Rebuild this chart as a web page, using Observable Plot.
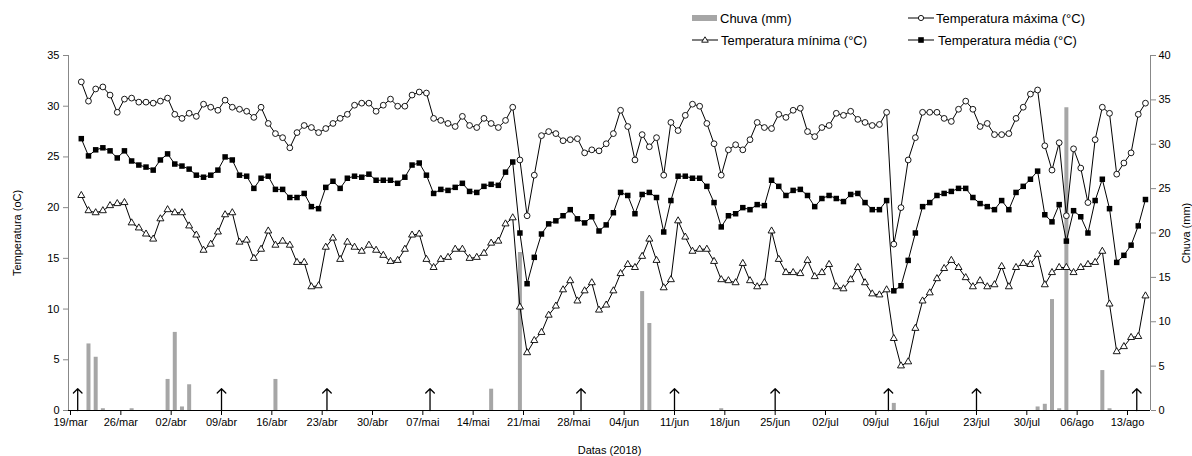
<!DOCTYPE html>
<html><head><meta charset="utf-8">
<script src="https://cdn.jsdelivr.net/npm/d3@7"></script>
<script src="https://cdn.jsdelivr.net/npm/@observablehq/plot@0.6"></script>
<style>
body{margin:0;background:#fff;font-family:"Liberation Sans",Arial,sans-serif;}
#wrap{position:relative;width:1192px;height:456px;overflow:hidden;}
#legend{position:relative;width:1192px;height:46px;font-size:13px;color:#000;}
.item{position:absolute;display:flex;align-items:center;height:16px;white-space:nowrap;}
</style></head><body>
<div id="wrap"><div id="legend"></div><div id="chart"></div></div>
<script>
// ---- data ----
const firstDate = "2018-03-20"; // one value per day from here
const tMax = [32.4,30.5,31.7,31.9,31.1,29.4,30.7,30.8,30.4,30.4,30.3,30.5,30.8,29.2,28.8,
  29.3,29.0,30.2,29.9,29.6,30.6,29.9,29.7,29.5,28.9,29.9,28.3,27.3,26.9,25.9,27.4,28.1,
  27.9,27.4,27.8,28.3,28.8,29.2,30.1,30.3,30.3,29.5,30.1,30.7,30.0,30.0,31.1,31.4,31.3,
  28.8,28.6,28.3,28.0,29.0,28.1,27.9,28.8,28.3,27.9,28.6,29.9,24.7,19.2,23.2,27.1,
  27.5,27.3,26.6,26.7,26.8,25.4,25.7,25.6,26.3,27.3,29.6,28.0,24.7,27.2,26.0,26.9,23.2,
  28.4,27.6,29.1,30.2,30.0,28.3,26.3,23.2,25.7,26.2,25.7,26.7,28.4,27.9,27.8,29.2,28.9,
  29.6,29.8,27.5,27.0,27.9,28.1,29.3,29.1,29.5,28.7,28.4,28.1,28.2,29.4,16.4,20.0,
  24.7,26.9,29.4,29.4,29.4,28.8,28.5,29.7,30.5,29.7,28.0,28.3,27.2,27.2,27.3,28.8,29.9,
  31.2,31.6,26.1,23.7,26.4,19.2,25.8,23.9,20.5,26.7,29.9,29.3,23.3,24.4,25.4,29.2,30.3];
const tMed = [26.8,25.1,25.7,25.9,25.6,24.9,25.6,24.6,24.2,24.0,23.7,24.7,25.3,24.3,24.1,
  23.8,23.2,23.0,23.2,23.7,25.0,24.7,23.2,23.1,21.9,22.9,23.1,21.8,21.8,21.0,21.0,21.4,
  20.1,19.9,22.0,22.6,21.9,22.9,23.1,23.0,23.3,22.7,22.7,22.7,22.4,23.0,24.2,24.4,23.2,
  21.4,21.8,21.7,22.0,22.4,21.6,21.5,22.1,22.3,22.2,23.5,24.5,17.5,12.5,15.1,17.4,
  18.4,18.7,19.2,19.8,18.9,18.5,19.1,17.7,18.3,19.5,21.5,21.2,19.4,21.3,21.5,21.0,17.6,
  20.7,23.1,23.1,22.9,22.9,22.1,20.5,18.1,19.2,19.4,20.0,19.8,20.3,20.2,22.7,22.1,21.2,
  21.7,21.8,21.2,20.1,20.9,21.2,20.9,20.6,21.3,21.4,20.5,19.8,19.8,20.7,11.8,12.3,
  14.8,17.5,20.1,20.5,21.2,21.4,21.6,21.9,21.9,21.0,20.4,20.1,19.8,20.7,19.8,21.5,22.1,
  22.8,23.6,19.3,18.6,20.3,16.7,19.7,19.1,17.5,20.7,22.8,19.9,14.6,15.3,16.3,18.2,20.8];
const tMin = [21.2,19.7,19.5,19.7,20.2,20.4,20.5,18.5,18.0,17.4,16.9,18.9,19.8,19.5,19.5,
  18.2,17.3,15.8,16.4,17.6,19.3,19.5,16.6,16.8,15.0,15.9,17.7,16.3,16.7,16.3,14.6,14.6,
  12.2,12.3,16.1,17.0,14.9,16.6,16.1,15.7,16.3,15.8,15.3,14.7,14.8,15.9,17.3,17.4,14.9,
  14.1,14.9,15.1,15.9,15.9,15.0,15.1,15.5,16.5,16.7,18.4,19.0,10.2,5.7,6.9,7.7,
  9.4,10.3,11.9,12.8,10.8,11.8,12.6,9.9,10.4,11.8,13.5,14.4,14.1,15.2,16.9,14.8,12.1,
  12.9,18.7,17.1,15.7,15.9,15.9,14.7,12.9,12.8,12.6,14.5,12.8,12.2,12.6,17.7,14.9,13.6,
  13.6,13.5,14.8,13.2,13.6,14.4,12.2,12.0,12.9,14.1,12.6,11.5,11.4,11.9,7.1,4.4,
  4.8,8.1,10.8,11.6,13.0,14.0,14.8,14.1,13.1,12.2,12.8,12.2,12.4,14.2,12.2,14.1,14.5,
  14.4,15.4,12.4,13.6,14.1,14.1,13.6,14.1,14.4,14.6,15.7,10.5,5.8,6.3,7.2,7.3,11.3];
const rainDates = ["2018-03-21","2018-03-22","2018-03-23","2018-03-27","2018-04-01","2018-04-02",
  "2018-04-03","2018-04-04","2018-04-16","2018-05-16","2018-05-20","2018-06-06","2018-06-07",
  "2018-06-17","2018-07-11","2018-07-31","2018-08-01","2018-08-02","2018-08-03","2018-08-04",
  "2018-08-09","2018-08-10"];
const rainMm = [7.5,6.0,0.2,0.2,3.5,8.8,0.4,2.9,3.5,2.4,17.8,13.4,9.8,0.2,0.8,0.4,0.7,12.5,0.2,34.1,4.5,0.2];
const arrowDates = ["2018-03-20T00:00Z","2018-04-09T00:00Z","2018-04-23T16:00Z","2018-05-08T00:00Z",
  "2018-05-29T00:00Z","2018-06-11T00:00Z","2018-06-25T00:00Z","2018-07-10T18:00Z",
  "2018-07-23T00:00Z","2018-08-14T07:00Z"];
const xTickDates = ["2018-03-19","2018-03-26","2018-04-02","2018-04-09","2018-04-16","2018-04-23",
  "2018-04-30","2018-05-07","2018-05-14","2018-05-21","2018-05-28","2018-06-04","2018-06-11",
  "2018-06-18","2018-06-25","2018-07-02","2018-07-09","2018-07-16","2018-07-23","2018-07-30",
  "2018-08-06","2018-08-13"];
const xTickLabels = ["19/mar","26/mar","02/abr","09/abr","16/abr","23/abr","30/abr","07/mai",
  "14/mai","21/mai","28/mai","04/jun","11/jun","18/jun","25/jun","02/jul","09/jul","16/jul",
  "23/jul","30/jul","06/ago","13/ago"];
const yTicks = [0,5,10,15,20,25,30,35];
const rainTicks = [0,5,10,15,20,25,30,35,40];
const seriesNames = ["Chuva (mm)","Temperatura máxima (°C)","Temperatura mínima (°C)","Temperatura média (°C)"];

// ---- build ----
const yMax = 35, rainMax = 40, arrowLen = 2.15;
const DAY = 864e5;
const t0 = Date.parse(firstDate);
const series = tMax.map((v, i) => ({date: new Date(t0 + i * DAY + DAY / 2), max: v, med: tMed[i], min: tMin[i]}));
const rain = rainDates.map((d, i) => ({date: new Date(Date.parse(d) + DAY / 2), mm: rainMm[i]}));
const arrows = arrowDates.map(d => ({date: new Date(d)}));
const toY = mm => mm * yMax / rainMax;
const xDomain = [new Date(Date.parse(xTickDates[0]) - 0.28 * DAY), new Date(Date.parse("2018-08-16") + 0.2 * DAY)];
const tickMap = new Map(xTickDates.map((d, i) => [Date.parse(d), xTickLabels[i]]));

const chart = Plot.plot({
  width: 1192, height: 410,
  marginTop: 9, marginBottom: 46, marginLeft: 68, marginRight: 42,
  style: {fontFamily: "'Liberation Sans', Arial, sans-serif", fontSize: "11px", color: "#000", background: "#fff", overflow: "visible"},
  x: {type: "utc", domain: xDomain},
  y: {domain: [0, yMax]},
  marks: [
    Plot.ruleX(rain, {x: "date", y1: 0, y2: d => toY(d.mm), stroke: "#a6a6a6", strokeWidth: 4}),
    Plot.arrow(arrows, {x1: "date", x2: "date", y1: 0, y2: arrowLen, stroke: "#000", strokeWidth: 1.3, headLength: 7, headAngle: 90}),
    Plot.line(series, {x: "date", y: "min", stroke: "#000", strokeWidth: 1}),
    Plot.dot(series, {x: "date", y: "min", symbol: "triangle", r: 2.6, fill: "#fff", stroke: "#000", strokeWidth: 0.9}),
    Plot.line(series, {x: "date", y: "med", stroke: "#000", strokeWidth: 1}),
    Plot.dot(series, {x: "date", y: "med", symbol: "square", r: 3.1, fill: "#000", stroke: "none"}),
    Plot.line(series, {x: "date", y: "max", stroke: "#000", strokeWidth: 1}),
    Plot.dot(series, {x: "date", y: "max", symbol: "circle", r: 2.9, fill: "#fff", stroke: "#000", strokeWidth: 0.9}),
    Plot.axisY(yTicks, {anchor: "left", tickSize: 5, tickPadding: 4, stroke: "#888", label: null}),
    Plot.axisY(rainTicks.map(toY), {anchor: "right", tickSize: 5, tickPadding: 3, stroke: "#888", label: null,
      tickFormat: v => String(Math.round(v * rainMax / yMax))}),
    Plot.axisX(xTickDates.map(d => new Date(d)), {anchor: "bottom", tickSize: 5, tickPadding: 3, label: null,
      tickFormat: d => tickMap.get(+d)}),
    Plot.ruleX([xDomain[0]], {stroke: "#888"}),
    Plot.ruleX([xDomain[1]], {stroke: "#888"}),
    Plot.ruleY([0], {stroke: "#000"}),
    Plot.text(["Temperatura (oC)"], {frameAnchor: "left", dx: -51, rotate: -90, textAnchor: "middle", lineAnchor: "middle", fontSize: 11}),
    Plot.text(["Chuva (mm)"], {frameAnchor: "right", dx: 36, rotate: -90, textAnchor: "middle", lineAnchor: "middle", fontSize: 11}),
    Plot.text(["Datas (2018)"], {frameAnchor: "bottom", dy: 40, textAnchor: "middle", lineAnchor: "middle", fontSize: 11})
  ]
});
document.getElementById("chart").appendChild(chart);

// ---- legend ----
const legend = document.getElementById("legend");
const sym = {
  rain: '<div style="width:25px;height:6px;background:#a6a6a6;margin-right:3px"></div>',
  max: '<svg width="27" height="16" style="margin-right:1px"><line x1="0" x2="26" y1="8" y2="8" stroke="#000"/><circle cx="13" cy="8" r="2.6" fill="#fff" stroke="#000" stroke-width="0.9"/></svg>',
  min: '<svg width="27" height="16" style="margin-right:2px"><line x1="0" x2="26" y1="8" y2="8" stroke="#000"/><path d="M13,4.8L16.3,10.2L9.7,10.2Z" fill="#fff" stroke="#000" stroke-width="0.9"/></svg>',
  med: '<svg width="27" height="16" style="margin-right:3px"><line x1="0" x2="26" y1="8" y2="8" stroke="#000"/><rect x="10.2" y="5.2" width="5.6" height="5.6" fill="#000"/></svg>'
};
const items = [
  {key: "rain", left: 692, top: 10, label: seriesNames[0]},
  {key: "max", left: 908, top: 10, label: seriesNames[1]},
  {key: "min", left: 692, top: 32, label: seriesNames[2]},
  {key: "med", left: 908, top: 32, label: seriesNames[3]}
];
for (const it of items) {
  const div = document.createElement("div");
  div.className = "item";
  div.style.left = it.left + "px";
  div.style.top = it.top + "px";
  div.innerHTML = sym[it.key] + "<span>" + it.label + "</span>";
  legend.appendChild(div);
}
</script>
</body></html>
